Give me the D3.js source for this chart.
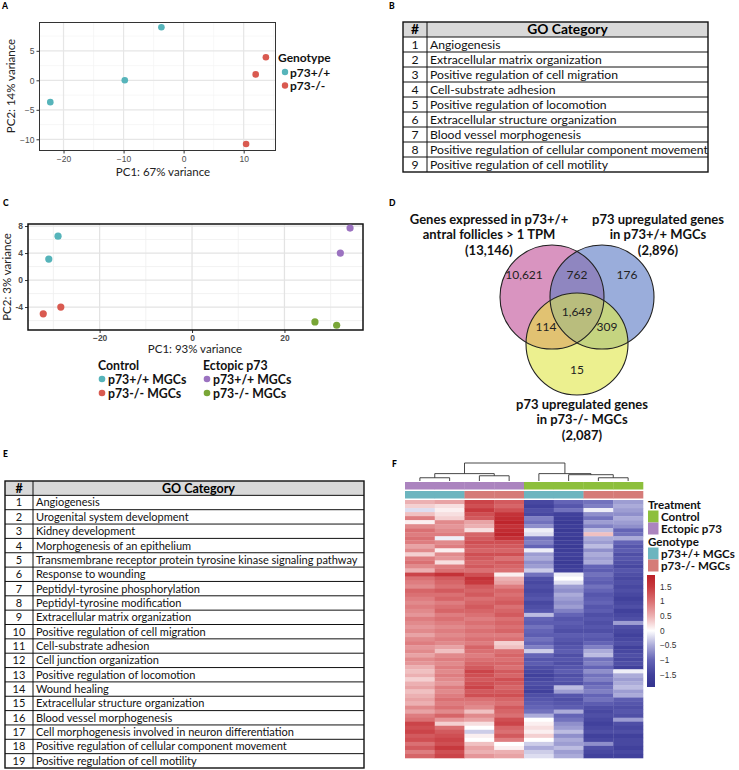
<!DOCTYPE html>
<html><head><meta charset="utf-8">
<script src="https://cdn.jsdelivr.net/npm/d3@7"></script>
<style>body{margin:0;background:#fff}svg{display:block}</style>
</head><body>
<svg id="fig" width="739" height="770"></svg>
<script>
// ---------------- DATA ----------------
// Panel A PCA
const pcaA_x = [-22.2, -9.8, -3.7, 13.7, 12.0, 10.4];
const pcaA_y = [-3.7, 0.0, 9.0, 3.9, 1.0, -10.8];
const pcaA_group = ["p73+/+", "p73+/+", "p73+/+", "p73-/-", "p73-/-", "p73-/-"];
const genotypesA = ["p73+/+", "p73-/-"];
const ticksA_x = [-20, -10, 0, 10];
const ticksA_y = [-10, -5, 0, 5];

// Panel B table
const goB = ["Angiogenesis", "Extracellular matrix organization", "Positive regulation of cell migration",
  "Cell-substrate adhesion", "Positive regulation of locomotion", "Extracellular structure organization",
  "Blood vessel morphogenesis", "Positive regulation of cellular component movement", "Positive regulation of cell motility"];

// Panel C PCA
const pcaC_x = [-29.0, -31.0, -28.4, -32.2, 34.2, 32.1, 26.6, 31.3];
const pcaC_y = [6.5, 3.1, -4.0, -5.0, 7.7, 4.0, -6.2, -6.7];
const pcaC_group = ["ctrl_wt", "ctrl_wt", "ctrl_ko", "ctrl_ko", "ect_wt", "ect_wt", "ect_ko", "ect_ko"];
const ticksC_x = [-20, 0, 20];
const ticksC_y = [8, 4, 0, -4];

// Panel D Venn
const vennSetTitles = [["Genes expressed in p73+/+", "antral follicles > 1 TPM", "(13,146)"],
  ["p73 upregulated genes", "in p73+/+ MGCs", "(2,896)"],
  ["p73 upregulated genes", "in p73-/- MGCs", "(2,087)"]];
const vennCounts = {"A": "10,621", "AB": "762", "B": "176", "ABC": "1,649", "AC": "114", "BC": "309", "C": "15"};

// Panel E table
const goE = ["Angiogenesis", "Urogenital system development", "Kidney development", "Morphogenesis of an epithelium",
  "Transmembrane receptor protein tyrosine kinase signaling pathway", "Response to wounding",
  "Peptidyl-tyrosine phosphorylation", "Peptidyl-tyrosine modification", "Extracellular matrix organization",
  "Positive regulation of cell migration", "Cell-substrate adhesion", "Cell junction organization",
  "Positive regulation of locomotion", "Wound healing", "Extracellular structure organization",
  "Blood vessel morphogenesis", "Cell morphogenesis involved in neuron differentiation",
  "Positive regulation of cellular component movement", "Positive regulation of cell motility"];

// Panel F heatmap (z-scores, estimated per row block)
const heatSamples = ["Ect_WT_1", "Ect_WT_2", "Ect_KO_1", "Ect_KO_2", "Ctl_WT_1", "Ctl_WT_2", "Ctl_KO_1", "Ctl_KO_2"];
const heatTreatment = ["Ectopic p73", "Ectopic p73", "Ectopic p73", "Ectopic p73", "Control", "Control", "Control", "Control"];
const heatGenotype = ["p73+/+ MGCs", "p73+/+ MGCs", "p73-/- MGCs", "p73-/- MGCs", "p73+/+ MGCs", "p73+/+ MGCs", "p73-/- MGCs", "p73-/- MGCs"];
const heatEctWT1 = [0.5,0.3,-0.2,0.4,0.9,0.1,0.8,1.0,0.9,1.0, 0.9,0.6,0.8,0.3,0.9,1.0,0.8,0.5,1.4,1.0,
  0.9,0.8,1.1,1.0,0.9,0.8,0.9,0.8,0.7,0.9, 0.8,0.7,0.8,0.6,0.8,0.9,0.7,0.8,0.6,0.8,
  0.7,0.5,0.4,0.5,0.3,0.5,0.6,0.4,0.5,0.6, 0.5,0.8,0.6,0.9,1.0,1.4,1.3,1.4,1.2,1.3, 1.0,1.2,0.9,1.1];
const heatEctWT2 = [0.6,0.2,0.1,0.2,0.3,0.8,0.7,0.8,0.9,-0.1, 0.8,0.9,0.1,0.8,0.7,0.2,0.9,1.0,1.6,1.2,
  1.1,1.0,1.2,1.0,1.1,0.9,1.0,1.1,0.9,1.0, 0.9,0.8,0.9,0.8,0.9,0.8,0.6,0.4,0.8,0.9,
  0.8,0.9,0.8,0.9,0.8,0.7,0.9,0.8,0.9,1.0, 0.9,1.0,0.8,1.1,0.7,0.3,1.0,1.2,1.3,1.4, 1.3,1.5,1.3,1.4];
const heatEctKO1 = [1.4,1.3,1.5,1.3,1.2,0.6,0.5,0.2,1.1,1.2, 1.3,1.2,1.1,1.3,1.2,1.1,1.2,1.0,1.3,1.6,
  1.5,1.2,1.1,1.2,1.0,1.1,1.2,1.1,1.0,0.9, 1.0,0.9,1.0,0.9,1.0,0.9,1.1,1.0,0.9,1.0,
  1.1,1.2,1.4,1.3,1.2,1.3,1.4,1.2,1.3,1.0, 0.9,0.8,0.4,0.8,0.6,0.2,0.0,-0.3,0.1,0.0, 0.4,0.6,0.5,0.7];
const heatEctKO2 = [1.2,1.1,1.3,1.6,1.7,1.8,1.6,1.7,1.8,1.6, 1.3,1.2,1.1,1.3,1.0,1.2,1.1,1.0,0.1,0.5,
  0.6,0.9,1.1,1.0,1.1,1.2,1.0,1.1,1.2,1.0, 1.1,1.0,1.1,0.9,1.0,0.3,0.4,1.0,1.1,1.0,
  1.1,1.0,1.2,1.1,1.3,1.2,1.1,1.2,1.3,1.1, 1.0,1.2,1.1,1.0,1.3,1.4,1.1,1.0,1.2,0.9, 0.0,0.1,0.5,0.6];
const heatCtlWT1 = [-1.4,-1.5,-1.3,-1.4,-0.8,-0.9,-0.7,-0.1,-0.2,-0.9, -0.8,-1.0,-0.1,-0.6,-0.5,-0.7,-0.6,-0.3,-0.9,-1.3,
  -1.4,-1.3,-1.4,-1.3,-1.2,-1.4,-1.3,-1.2,-0.4,-1.0, -1.1,-0.9,-1.0,-1.1,-0.9,-1.0,-0.8,-0.3,-1.0,-1.2,
  -1.1,-1.3,-1.4,-1.5,-1.4,-1.3,-1.4,-1.5,-1.3,-1.2, -1.1,-1.0,-0.9,-0.5,0.0,0.1,0.2,0.1,0.3,0.0, -0.3,-0.5,-0.3,-0.2];
const heatCtlWT2 = [-1.0,-1.2,-0.9,-1.5,-1.6,-1.7,-1.6,-1.7,-1.6,-1.7, -1.6,-1.7,-1.6,-1.5,-1.6,-1.7,-1.6,-1.5,-0.1,0.0,
  -0.2,-0.6,-0.7,-0.5,-0.6,-0.7,-0.6,-0.8,-1.0,-1.2, -1.1,-1.2,-1.3,-1.1,-1.2,-1.3,-1.2,-1.1,-1.3,-1.2,
  -1.3,-1.2,-1.1,-1.3,-1.2,-1.3,-0.4,-0.6,-1.2,-1.3, -1.2,-1.1,-0.5,-1.0,-0.9,-0.7,-0.6,-0.4,-0.7,-0.5, -0.6,-0.4,-0.6,-0.5];
const heatCtlKO1 = [-0.9,-0.8,-0.1,-0.7,-0.9,-0.6,-0.8,-0.4,0.4,-0.5, -0.6,-0.4,-0.7,-0.5,-0.6,-0.5,-1.0,-1.1,-0.9,-1.0,
  -1.1,-0.9,-1.0,-1.2,-1.1,-1.0,-1.2,-1.1,-1.3,-1.2, -1.3,-1.2,-1.3,-1.1,-1.2,-1.0,-0.8,-0.5,-0.4,-0.9,
  -0.8,-1.0,-0.7,-0.9,-0.8,-1.0,-0.9,-0.8,-1.0,-0.9, -1.1,-1.3,-1.4,-1.3,-1.4,-1.5,-1.4,-1.3,-1.5,-1.4, -0.7,-1.3,-1.4,-1.5];
const heatCtlKO2 = [-0.6,-0.5,-0.6,-0.7,-0.5,-0.6,-0.7,-1.0,-0.9,-0.5, -1.0,-1.2,-1.1,-1.3,-1.2,-1.3,-1.4,-1.2,-1.3,-1.4,
  -1.3,-1.4,-1.3,-1.4,-1.5,-1.4,-1.3,-1.5,-1.4,-1.3, -0.6,-1.3,-1.4,-1.5,-1.4,-1.3,-1.5,-1.4,-1.3,-1.4,
  -1.3,-1.5,-0.1,-0.5,-0.6,-0.5,-0.4,-0.6,-0.5,-1.1, -1.2,-1.3,-1.2,-1.3,-0.6,-1.3,-1.4,-1.3,-1.5,-1.4, -1.4,-1.5,-1.4,-1.5];
const heatColumns = [heatEctWT1, heatEctWT2, heatEctKO1, heatEctKO2, heatCtlWT1, heatCtlWT2, heatCtlKO1, heatCtlKO2];
const heatLegendTicks = [1.5, 1, 0.5, 0, -0.5, -1, -1.5];
// dendrogram (column clustering), heights relative
const dendro = {h: 1.0, children: [
  {h: 0.41, children: [{h: 0.18, children: [{leaf: 0}, {leaf: 1}]}, {h: 0.29, children: [{leaf: 2}, {leaf: 3}]}]},
  {h: 0.41, children: [{leaf: 4}, {h: 0.35, children: [{leaf: 5}, {h: 0.18, children: [{leaf: 6}, {leaf: 7}]}]}]}
]};

// ---------------- STYLE ----------------
const FONT = "Lato, 'Open Sans', sans-serif";
const TICKFONT = "'Liberation Sans', Arial, sans-serif";
const col = {teal: "#56B4BA", red: "#D95A50", purple: "#9B72C0", green: "#79A637"};
const svg = d3.select("#fig");
svg.append("rect").attr("width", 739).attr("height", 770).attr("fill", "#fff");
const defs = svg.append("defs");

function panelLabel(t, x, y) {
  svg.append("text").attr("x", x).attr("y", y).text(t)
    .attr("font-family", FONT).attr("font-weight", 900).attr("font-size", 8.5).attr("fill", "#000");
}
panelLabel("A", 2, 9); panelLabel("B", 389, 9); panelLabel("C", 3, 206);
panelLabel("D", 389, 206); panelLabel("E", 3, 457); panelLabel("F", 392, 467);

// ---------------- PANEL A ----------------
(function () {
  const x = d3.scaleLinear().domain([-24, 15.3]).range([39.5, 275.5]);
  const y = d3.scaleLinear().domain([-11.9, 9.8]).range([150.5, 22.5]);
  const g = svg.append("g");
  const minorX = [-15, -5, 5, 15], minorY = [-7.5, -2.5, 2.5, 7.5];
  g.selectAll(".mnx").data(minorX).join("line").attr("x1", d => x(d)).attr("x2", d => x(d))
    .attr("y1", y.range()[0]).attr("y2", y.range()[1]).attr("stroke", "#F3F3F3").attr("stroke-width", 0.7);
  g.selectAll(".mny").data(minorY).join("line").attr("y1", d => y(d)).attr("y2", d => y(d))
    .attr("x1", x.range()[0]).attr("x2", x.range()[1]).attr("stroke", "#F3F3F3").attr("stroke-width", 0.7);
  g.append("g").selectAll("line").data(ticksA_x).join("line").attr("x1", d => x(d)).attr("x2", d => x(d))
    .attr("y1", y.range()[0]).attr("y2", y.range()[1]).attr("stroke", "#E6E6E6").attr("stroke-width", 1.2);
  g.append("g").selectAll("line").data(ticksA_y).join("line").attr("y1", d => y(d)).attr("y2", d => y(d))
    .attr("x1", x.range()[0]).attr("x2", x.range()[1]).attr("stroke", "#E6E6E6").attr("stroke-width", 1.2);
  const fmt = d => (d < 0 ? "\u2212" + Math.abs(d) : String(d));
  const xa = g.append("g").attr("transform", `translate(0,${y.range()[0]})`)
    .call(d3.axisBottom(x).tickValues(ticksA_x).tickSize(3).tickPadding(2).tickFormat(fmt));
  const ya = g.append("g").attr("transform", `translate(${x.range()[0]},0)`)
    .call(d3.axisLeft(y).tickValues(ticksA_y).tickSize(3).tickPadding(2).tickFormat(fmt));
  [xa, ya].forEach(a => {
    a.select(".domain").remove();
    a.selectAll("line").attr("stroke", "#333");
    a.selectAll("text").attr("font-family", TICKFONT).attr("font-size", 8.5).attr("fill", "#4D4D4D");
  });
  g.append("rect").attr("x", x.range()[0]).attr("y", y.range()[1])
    .attr("width", x.range()[1] - x.range()[0]).attr("height", y.range()[0] - y.range()[1])
    .attr("fill", "none").attr("stroke", "#333").attr("stroke-width", 1);
  const cA = d3.scaleOrdinal().domain(genotypesA).range([col.teal, col.red]);
  g.selectAll("circle.pt").data(pcaA_x).join("circle")
    .attr("cx", (d, i) => x(d)).attr("cy", (d, i) => y(pcaA_y[i])).attr("r", 3.3)
    .attr("fill", (d, i) => cA(pcaA_group[i]));
  g.append("text").attr("x", 163).attr("y", 176).attr("text-anchor", "middle").text("PC1: 67% variance")
    .attr("font-family", FONT).attr("font-size", 11.5).attr("fill", "#222");
  g.append("text").attr("transform", "translate(15,86) rotate(-90)").attr("text-anchor", "middle")
    .text("PC2: 14% variance").attr("font-family", FONT).attr("font-size", 11.5).attr("fill", "#222");
  g.append("text").attr("x", 278).attr("y", 62).text("Genotype").attr("font-family", FONT)
    .attr("font-weight", 700).attr("font-size", 12).attr("fill", "#111");
  genotypesA.forEach((gt, i) => {
    g.append("circle").attr("cx", 285).attr("cy", 72 + i * 13.5).attr("r", 3.2).attr("fill", cA(gt));
    g.append("text").attr("x", 290).attr("y", 76.5 + i * 13.5).text(gt).attr("font-family", FONT)
      .attr("font-weight", 700).attr("font-size", 12).attr("fill", "#111");
  });
})();

// ---------------- TABLES ----------------
function drawTable(items, x0, xDiv, x1, y0, rowH, fs, hfs) {
  const g = svg.append("g");
  const n = items.length + 1;
  const yb = d3.scaleLinear().domain([0, n]).range([y0, y0 + rowH * n]);
  g.append("rect").attr("x", x0).attr("y", yb(0)).attr("width", x1 - x0).attr("height", rowH)
    .attr("fill", "#D9D9D9");
  g.selectAll("line.h").data(d3.range(1, n)).join("line").attr("x1", x0).attr("x2", x1)
    .attr("y1", d => yb(d)).attr("y2", d => yb(d)).attr("stroke", "#111").attr("stroke-width", 1);
  g.append("line").attr("x1", xDiv).attr("x2", xDiv).attr("y1", yb(0)).attr("y2", yb(n))
    .attr("stroke", "#111").attr("stroke-width", 1);
  g.append("rect").attr("x", x0).attr("y", yb(0)).attr("width", x1 - x0).attr("height", yb(n) - yb(0))
    .attr("fill", "none").attr("stroke", "#111").attr("stroke-width", 1.4);
  g.append("text").attr("x", (x0 + xDiv) / 2).attr("y", yb(0.5)).attr("dy", "0.36em").attr("text-anchor", "middle")
    .text("#").attr("font-family", FONT).attr("font-weight", 700).attr("font-size", hfs);
  g.append("text").attr("x", (xDiv + x1) / 2).attr("y", yb(0.5)).attr("dy", "0.36em").attr("text-anchor", "middle")
    .text("GO Category").attr("font-family", FONT).attr("font-weight", 700).attr("font-size", hfs);
  g.selectAll("text.num").data(items).join("text").attr("x", (x0 + xDiv) / 2).attr("y", (d, i) => yb(i + 1.5))
    .attr("dy", "0.36em").attr("text-anchor", "middle").text((d, i) => i + 1)
    .attr("font-family", FONT).attr("font-size", fs).attr("fill", "#111");
  g.selectAll("text.lab").data(items).join("text").attr("x", xDiv + 3).attr("y", (d, i) => yb(i + 1.5))
    .attr("dy", "0.36em").text(d => d).attr("font-family", FONT).attr("font-size", fs).attr("fill", "#111");
}
drawTable(goB, 403, 427, 708, 22, 15, 12.2, 13.8);
drawTable(goE, 5, 33, 364, 481, 14.35, 11, 12.5);

// ---------------- PANEL C ----------------
(function () {
  const x = d3.scaleLinear().domain([-35.5, 37]).range([28, 363]);
  const y = d3.scaleLinear().domain([-7.4, 8.3]).range([330, 224]);
  const g = svg.append("g");
  const minorX = [-30, -10, 10, 30], minorY = [6, 2, -2, -6];
  g.selectAll(".mnx").data(minorX).join("line").attr("x1", d => x(d)).attr("x2", d => x(d))
    .attr("y1", y.range()[0]).attr("y2", y.range()[1]).attr("stroke", "#EFEFEF").attr("stroke-width", 0.8);
  g.selectAll(".mny").data(minorY).join("line").attr("y1", d => y(d)).attr("y2", d => y(d))
    .attr("x1", x.range()[0]).attr("x2", x.range()[1]).attr("stroke", "#EFEFEF").attr("stroke-width", 0.8);
  g.append("g").selectAll("line").data(ticksC_x).join("line").attr("x1", d => x(d)).attr("x2", d => x(d))
    .attr("y1", y.range()[0]).attr("y2", y.range()[1]).attr("stroke", "#E3E3E3").attr("stroke-width", 1.3);
  g.append("g").selectAll("line").data(ticksC_y).join("line").attr("y1", d => y(d)).attr("y2", d => y(d))
    .attr("x1", x.range()[0]).attr("x2", x.range()[1]).attr("stroke", "#E3E3E3").attr("stroke-width", 1.3);
  const xa = g.append("g").attr("transform", `translate(0,${y.range()[0]})`)
    .call(d3.axisBottom(x).tickValues(ticksC_x).tickSize(3).tickPadding(2).tickFormat(d => (d < 0 ? "\u2212" + Math.abs(d) : d)));
  const ya = g.append("g").attr("transform", `translate(${x.range()[0]},0)`)
    .call(d3.axisLeft(y).tickValues(ticksC_y).tickSize(3).tickPadding(2).tickFormat(d => d));
  [xa, ya].forEach(a => {
    a.select(".domain").remove();
    a.selectAll("line").attr("stroke", "#333");
    a.selectAll("text").attr("font-family", TICKFONT).attr("font-weight", 700).attr("font-size", 8.5).attr("fill", "#4D4D4D");
  });
  g.append("rect").attr("x", x.range()[0]).attr("y", y.range()[1])
    .attr("width", x.range()[1] - x.range()[0]).attr("height", y.range()[0] - y.range()[1])
    .attr("fill", "none").attr("stroke", "#111").attr("stroke-width", 1.5);
  const cC = d3.scaleOrdinal().domain(["ctrl_wt", "ctrl_ko", "ect_wt", "ect_ko"])
    .range([col.teal, col.red, col.purple, col.green]);
  g.selectAll("circle.pt").data(pcaC_x).join("circle")
    .attr("cx", d => x(d)).attr("cy", (d, i) => y(pcaC_y[i])).attr("r", 3.6)
    .attr("fill", (d, i) => cC(pcaC_group[i]));
  g.append("text").attr("x", 195).attr("y", 353).attr("text-anchor", "middle").text("PC1: 93% variance")
    .attr("font-family", FONT).attr("font-size", 11.5).attr("fill", "#222");
  g.append("text").attr("transform", "translate(11,277) rotate(-90)").attr("text-anchor", "middle")
    .text("PC2: 3% variance").attr("font-family", FONT).attr("font-size", 11.5).attr("fill", "#222");
  const legendC = [{title: "Control", x: 98, items: [["p73+/+ MGCs", "ctrl_wt"], ["p73-/- MGCs", "ctrl_ko"]]},
                   {title: "Ectopic p73", x: 203, items: [["p73+/+ MGCs", "ect_wt"], ["p73-/- MGCs", "ect_ko"]]}];
  legendC.forEach(L => {
    g.append("text").attr("x", L.x).attr("y", 370).text(L.title).attr("font-family", FONT)
      .attr("font-weight", 700).attr("font-size", 12.3).attr("fill", "#111");
    L.items.forEach((it, i) => {
      g.append("circle").attr("cx", L.x + 4).attr("cy", 379 + i * 14).attr("r", 3.3).attr("fill", cC(it[1]));
      g.append("text").attr("x", L.x + 10).attr("y", 383.5 + i * 14).text(it[0]).attr("font-family", FONT)
        .attr("font-weight", 700).attr("font-size", 12.3).attr("fill", "#111");
    });
  });
})();

// ---------------- PANEL D (Venn) ----------------
(function () {
  const g = svg.append("g");
  const circ = [{cx: 552, cy: 297, r: 52, fill: "#D994C0"}, {cx: 602, cy: 297, r: 52, fill: "#9AADDB"},
                {cx: 577, cy: 344, r: 51, fill: "#ECF08F"}];
  circ.forEach((c, i) => defs.append("clipPath").attr("id", "vc" + i).append("circle")
    .attr("cx", c.cx).attr("cy", c.cy).attr("r", c.r));
  circ.forEach(c => g.append("circle").attr("cx", c.cx).attr("cy", c.cy).attr("r", c.r).attr("fill", c.fill));
  function inter(a, b, fill) {
    g.append("g").attr("clip-path", `url(#vc${a})`).append("circle").attr("cx", circ[b].cx).attr("cy", circ[b].cy)
      .attr("r", circ[b].r).attr("fill", fill);
  }
  inter(0, 1, "#8F86C0"); inter(0, 2, "#E1C272"); inter(1, 2, "#C5D480");
  g.append("g").attr("clip-path", "url(#vc0)").append("g").attr("clip-path", "url(#vc1)").append("circle")
    .attr("cx", circ[2].cx).attr("cy", circ[2].cy).attr("r", circ[2].r).attr("fill", "#B9BD7D");
  circ.forEach(c => g.append("circle").attr("cx", c.cx).attr("cy", c.cy).attr("r", c.r).attr("fill", "none")
    .attr("stroke", "#222").attr("stroke-width", 1.1));
  const pos = {A: [524, 275], AB: [577, 275], B: [627, 275], ABC: [577, 312], AC: [546, 327], BC: [607, 327], C: [577, 370]};
  Object.keys(vennCounts).forEach(k => g.append("text").attr("x", pos[k][0]).attr("y", pos[k][1]).attr("dy", "0.36em")
    .attr("text-anchor", "middle").text(vennCounts[k]).attr("font-family", FONT).attr("font-size", 12).attr("fill", "#222"));
  const tpos = [[489, 219], [658, 219], [582, 404]];
  vennSetTitles.forEach((lines, i) => lines.forEach((t, j) => g.append("text").attr("x", tpos[i][0])
    .attr("y", tpos[i][1] + j * 15.5).attr("dy", "0.36em").attr("text-anchor", "middle").text(t)
    .attr("font-family", FONT).attr("font-weight", 700).attr("font-size", 13).attr("fill", "#111")));
})();

// ---------------- PANEL F (heatmap) ----------------
(function () {
  const g = svg.append("g");
  const x = d3.scaleBand().domain(d3.range(heatSamples.length)).range([405, 643]);
  const nRows = heatColumns[0].length;
  const y = d3.scaleBand().domain(d3.range(nRows)).range([500, 758]);
  const color = d3.scaleLinear().domain([-1.9, -1.5, -1, -0.5, 0, 0.5, 1, 1.5, 1.9])
    .range(["#34348F", "#41419C", "#6464B6", "#ABABD9", "#FFFFFF", "#ECB0B2", "#DA7073", "#C7393E", "#BB1F26"])
    .clamp(true);
  heatColumns.forEach((vals, ci) => {
    g.append("g").selectAll("rect").data(vals).join("rect")
      .attr("x", x(ci)).attr("width", x.bandwidth() + 0.3)
      .attr("y", (d, ri) => y(ri)).attr("height", y.bandwidth() + 0.3)
      .attr("fill", d => color(d));
  });
  const trtColor = d3.scaleOrdinal().domain(["Control", "Ectopic p73"]).range(["#8DBF3C", "#AB84BF"]);
  const genColor = d3.scaleOrdinal().domain(["p73+/+ MGCs", "p73-/- MGCs"]).range(["#6CB5BF", "#D57B78"]);
  g.selectAll("rect.trt").data(heatTreatment).join("rect").attr("x", (d, i) => x(i)).attr("width", x.bandwidth() + 0.3)
    .attr("y", 482).attr("height", 7.5).attr("fill", d => trtColor(d));
  g.selectAll("rect.gen").data(heatGenotype).join("rect").attr("x", (d, i) => x(i)).attr("width", x.bandwidth() + 0.3)
    .attr("y", 491).attr("height", 7.5).attr("fill", d => genColor(d));
  // dendrogram
  const hy = d3.scaleLinear().domain([0, 1]).range([481, 463]);
  function layout(node) {
    if (node.leaf !== undefined) { node.x = x(node.leaf) + x.bandwidth() / 2; node.hh = 0; return; }
    node.children.forEach(layout);
    node.x = d3.mean(node.children, c => c.x); node.hh = node.h;
  }
  layout(dendro);
  const segs = [];
  (function walk(node) {
    if (!node.children) return;
    segs.push([node.children[0].x, hy(node.hh), node.children[1].x, hy(node.hh)]);
    node.children.forEach(c => { segs.push([c.x, hy(node.hh), c.x, hy(c.hh)]); walk(c); });
  })(dendro);
  g.selectAll("line.dd").data(segs).join("line").attr("x1", d => d[0]).attr("y1", d => d[1])
    .attr("x2", d => d[2]).attr("y2", d => d[3]).attr("stroke", "#333").attr("stroke-width", 0.9);
  // legends
  const lf = (t, xx, yy) => g.append("text").attr("x", xx).attr("y", yy).text(t).attr("font-family", FONT)
    .attr("font-weight", 700).attr("font-size", 11.6).attr("fill", "#111");
  lf("Treatment", 648, 509);
  ["Control", "Ectopic p73"].forEach((t, i) => {
    g.append("rect").attr("x", 648).attr("y", 510.5 + i * 12).attr("width", 10.5).attr("height", 12).attr("fill", trtColor(t));
    lf(t, 661, 520.5 + i * 12);
  });
  lf("Genotype", 648, 546);
  ["p73+/+ MGCs", "p73-/- MGCs"].forEach((t, i) => {
    g.append("rect").attr("x", 648).attr("y", 547.5 + i * 12).attr("width", 10.5).attr("height", 12).attr("fill", genColor(t));
    lf(t, 661, 557.5 + i * 12);
  });
  // colour bar
  const cb = d3.scaleLinear().domain([-1.92, 1.9]).range([687, 575]);
  const grad = defs.append("linearGradient").attr("id", "cbgrad")
    .attr("x1", 0).attr("y1", 1).attr("x2", 0).attr("y2", 0);
  color.domain().forEach(v => grad.append("stop").attr("offset", (v - cb.domain()[0]) / (cb.domain()[1] - cb.domain()[0]))
    .attr("stop-color", color(v)));
  g.append("rect").attr("x", 647).attr("y", 575).attr("width", 8).attr("height", 112).attr("fill", "url(#cbgrad)");
  g.selectAll("text.cbt").data(heatLegendTicks).join("text").attr("x", 660).attr("y", d => cb(d)).attr("dy", "0.35em")
    .text(d => (d < 0 ? "\u2212" + Math.abs(d) : d)).attr("font-family", TICKFONT).attr("font-size", 8.3).attr("fill", "#333");
})();
</script>
</body></html>
